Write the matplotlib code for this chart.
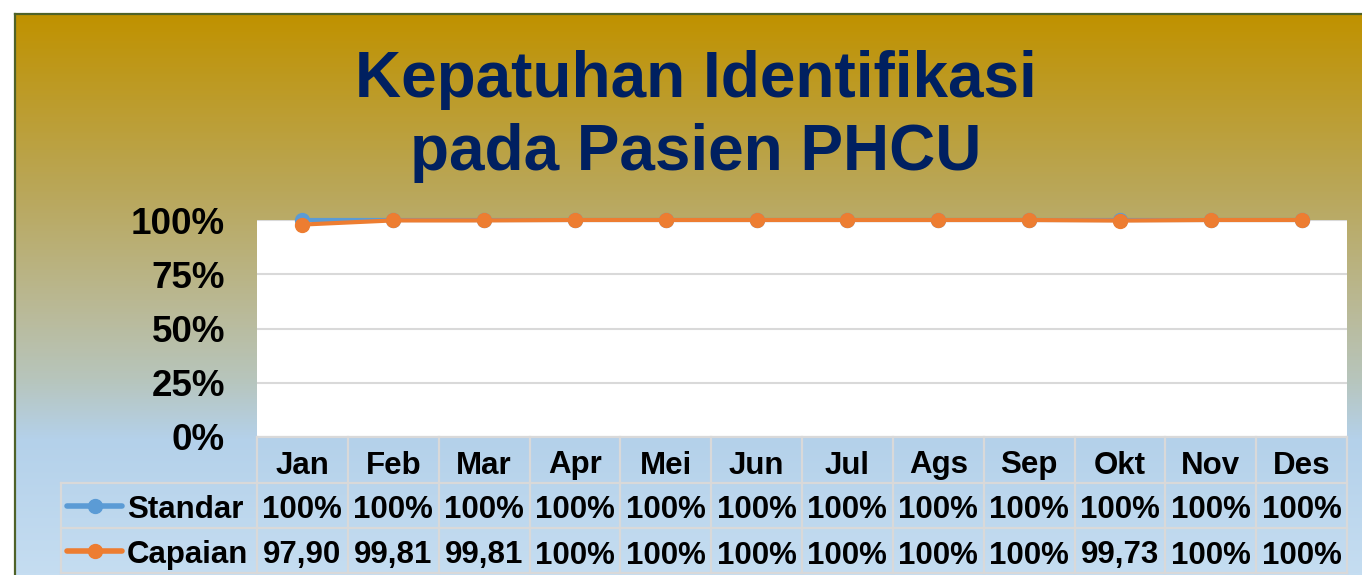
import numpy as np
import matplotlib
matplotlib.use("Agg")
import matplotlib.pyplot as plt
from matplotlib.colors import LinearSegmentedColormap
from matplotlib.lines import Line2D

# ---------------- data ----------------
months = ["Jan", "Feb", "Mar", "Apr", "Mei", "Jun", "Jul", "Ags", "Sep", "Okt", "Nov", "Des"]
standar = [100, 100, 100, 100, 100, 100, 100, 100, 100, 100, 100, 100]
capaian = [97.90, 99.81, 99.81, 100, 100, 100, 100, 100, 100, 99.73, 100, 100]
series_names = ["Standar", "Capaian"]
yticks = [0, 25, 50, 75, 100]
ytick_labels = ["0%", "25%", "50%", "75%", "100%"]
title_lines = ["Kepatuhan Identifikasi", "pada Pasien PHCU"]

# ---------------- styling ----------------
W, H = 1362, 575
DPI = 100
BLUE = "#5B9BD5"
ORANGE = "#ED7D31"
GRID = "#D9D9D9"
NAVY = "#002060"
FONT = "Liberation Sans"

plt.rcParams["font.family"] = [FONT, "DejaVu Sans"]

fig = plt.figure(figsize=(W / DPI, H / DPI), dpi=DPI)
fig.patch.set_facecolor("white")

def fx(px):
    return px / W

def fy(py):
    return 1 - py / H

# gradient background of chart frame
frame_l, frame_t = 15, 14
bg = fig.add_axes([fx(frame_l), 0, 1 - fx(frame_l), fy(frame_t)])
bg.set_axis_off()
stops = [(0.0, "#C09200"), ((200 - 14) / 561, "#B9A85E"), ((300 - 14) / 561, "#BAB892"),
         ((380 - 14) / 561, "#B7C5BC"), ((440 - 14) / 561, "#B4D1EA"), (1.0, "#C5DDF1")]
cmap = LinearSegmentedColormap.from_list("bg", stops)
grad = np.linspace(0, 1, 600).reshape(-1, 1)
bg.imshow(grad, aspect="auto", cmap=cmap, extent=[0, 1, 0, 1], origin="upper")
bg.set_xlim(0, 1)
bg.set_ylim(0, 1)
fig.add_artist(Line2D([fx(frame_l), 1], [fy(frame_t), fy(frame_t)], color="#4F6228", lw=1.6))
fig.add_artist(Line2D([fx(frame_l), fx(frame_l)], [0, fy(frame_t)], color="#4F6228", lw=1.6))

# title
fig.text(fx(696), fy(97), title_lines[0], ha="center", va="baseline",
         fontsize=46, fontweight="bold", color=NAVY)
fig.text(fx(696), fy(170), title_lines[1], ha="center", va="baseline",
         fontsize=46, fontweight="bold", color=NAVY)

# plot area
pl, pr, pt, pb = 257, 1347, 220, 437
ax = fig.add_axes([fx(pl), fy(pb), fx(pr) - fx(pl), fy(pt) - fy(pb)])
ax.set_facecolor("white")
x = np.arange(len(months))
ax.set_xlim(-0.5, len(months) - 0.5)
ax.set_ylim(0, 100)
for v in yticks:
    ax.axhline(v, color=GRID, lw=1.5, zorder=1)
ax.plot(x, standar, color=BLUE, lw=3, marker="o", markersize=10, clip_on=False, zorder=3)
ax.plot(x, capaian, color=ORANGE, lw=3, marker="o", markersize=10, clip_on=False, zorder=4)
ax.set_yticks(yticks)
ax.set_yticklabels(ytick_labels, fontsize=26.5, fontweight="bold", color="black")
ax.tick_params(axis="y", length=0, pad=23)
ax.set_xticks([])
for s in ax.spines.values():
    s.set_visible(False)

# data table
tl, tb = 61, 573
units_per_px = len(months) / (pr - pl)
x_left = -0.5 - (pl - tl) * units_per_px
tax = fig.add_axes([fx(tl), fy(tb), fx(pr) - fx(tl), fy(pb) - fy(tb)])
tax.set_axis_off()
tax.set_xlim(x_left, len(months) - 0.5)
row_edges = [0, 46, 91, 136]
tax.set_ylim(136, 0)
lw_t = 1.6
tax.plot([-0.5, len(months) - 0.5], [0, 0], color=GRID, lw=lw_t, clip_on=False)
for r in row_edges[1:]:
    tax.plot([x_left, len(months) - 0.5], [r, r], color=GRID, lw=lw_t, clip_on=False)
for c in range(len(months) + 1):
    tax.plot([c - 0.5, c - 0.5], [0, 136], color=GRID, lw=lw_t, clip_on=False)
tax.plot([x_left, x_left], [46, 136], color=GRID, lw=lw_t, clip_on=False)

def fmt(v):
    if v == 100:
        return "100%"
    return f"{v:.2f}".replace(".", ",")

FS = 22.5
for i, m in enumerate(months):
    tax.text(i, 25, m, ha="center", va="center_baseline", fontsize=FS, fontweight="bold")
    tax.text(i, 70, fmt(standar[i]), ha="center", va="center_baseline", fontsize=FS, fontweight="bold")
    tax.text(i, 115, fmt(capaian[i]), ha="center", va="center_baseline", fontsize=FS, fontweight="bold")

for (name, col, yc) in [(series_names[0], BLUE, 68.5), (series_names[1], ORANGE, 113.5)]:
    x0 = x_left + 6 * units_per_px
    x1 = x_left + 61 * units_per_px
    xm = x_left + 34 * units_per_px
    tax.plot([x0, x1], [yc, yc], color=col, lw=4, solid_capstyle="round")
    tax.plot([xm], [yc], marker="o", color=col, markersize=10)
    tax.text(x_left + 66 * units_per_px, yc + 1.5, name, ha="left", va="center_baseline",
             fontsize=FS, fontweight="bold")

fig.savefig("out.png", dpi=DPI, facecolor=fig.get_facecolor())
